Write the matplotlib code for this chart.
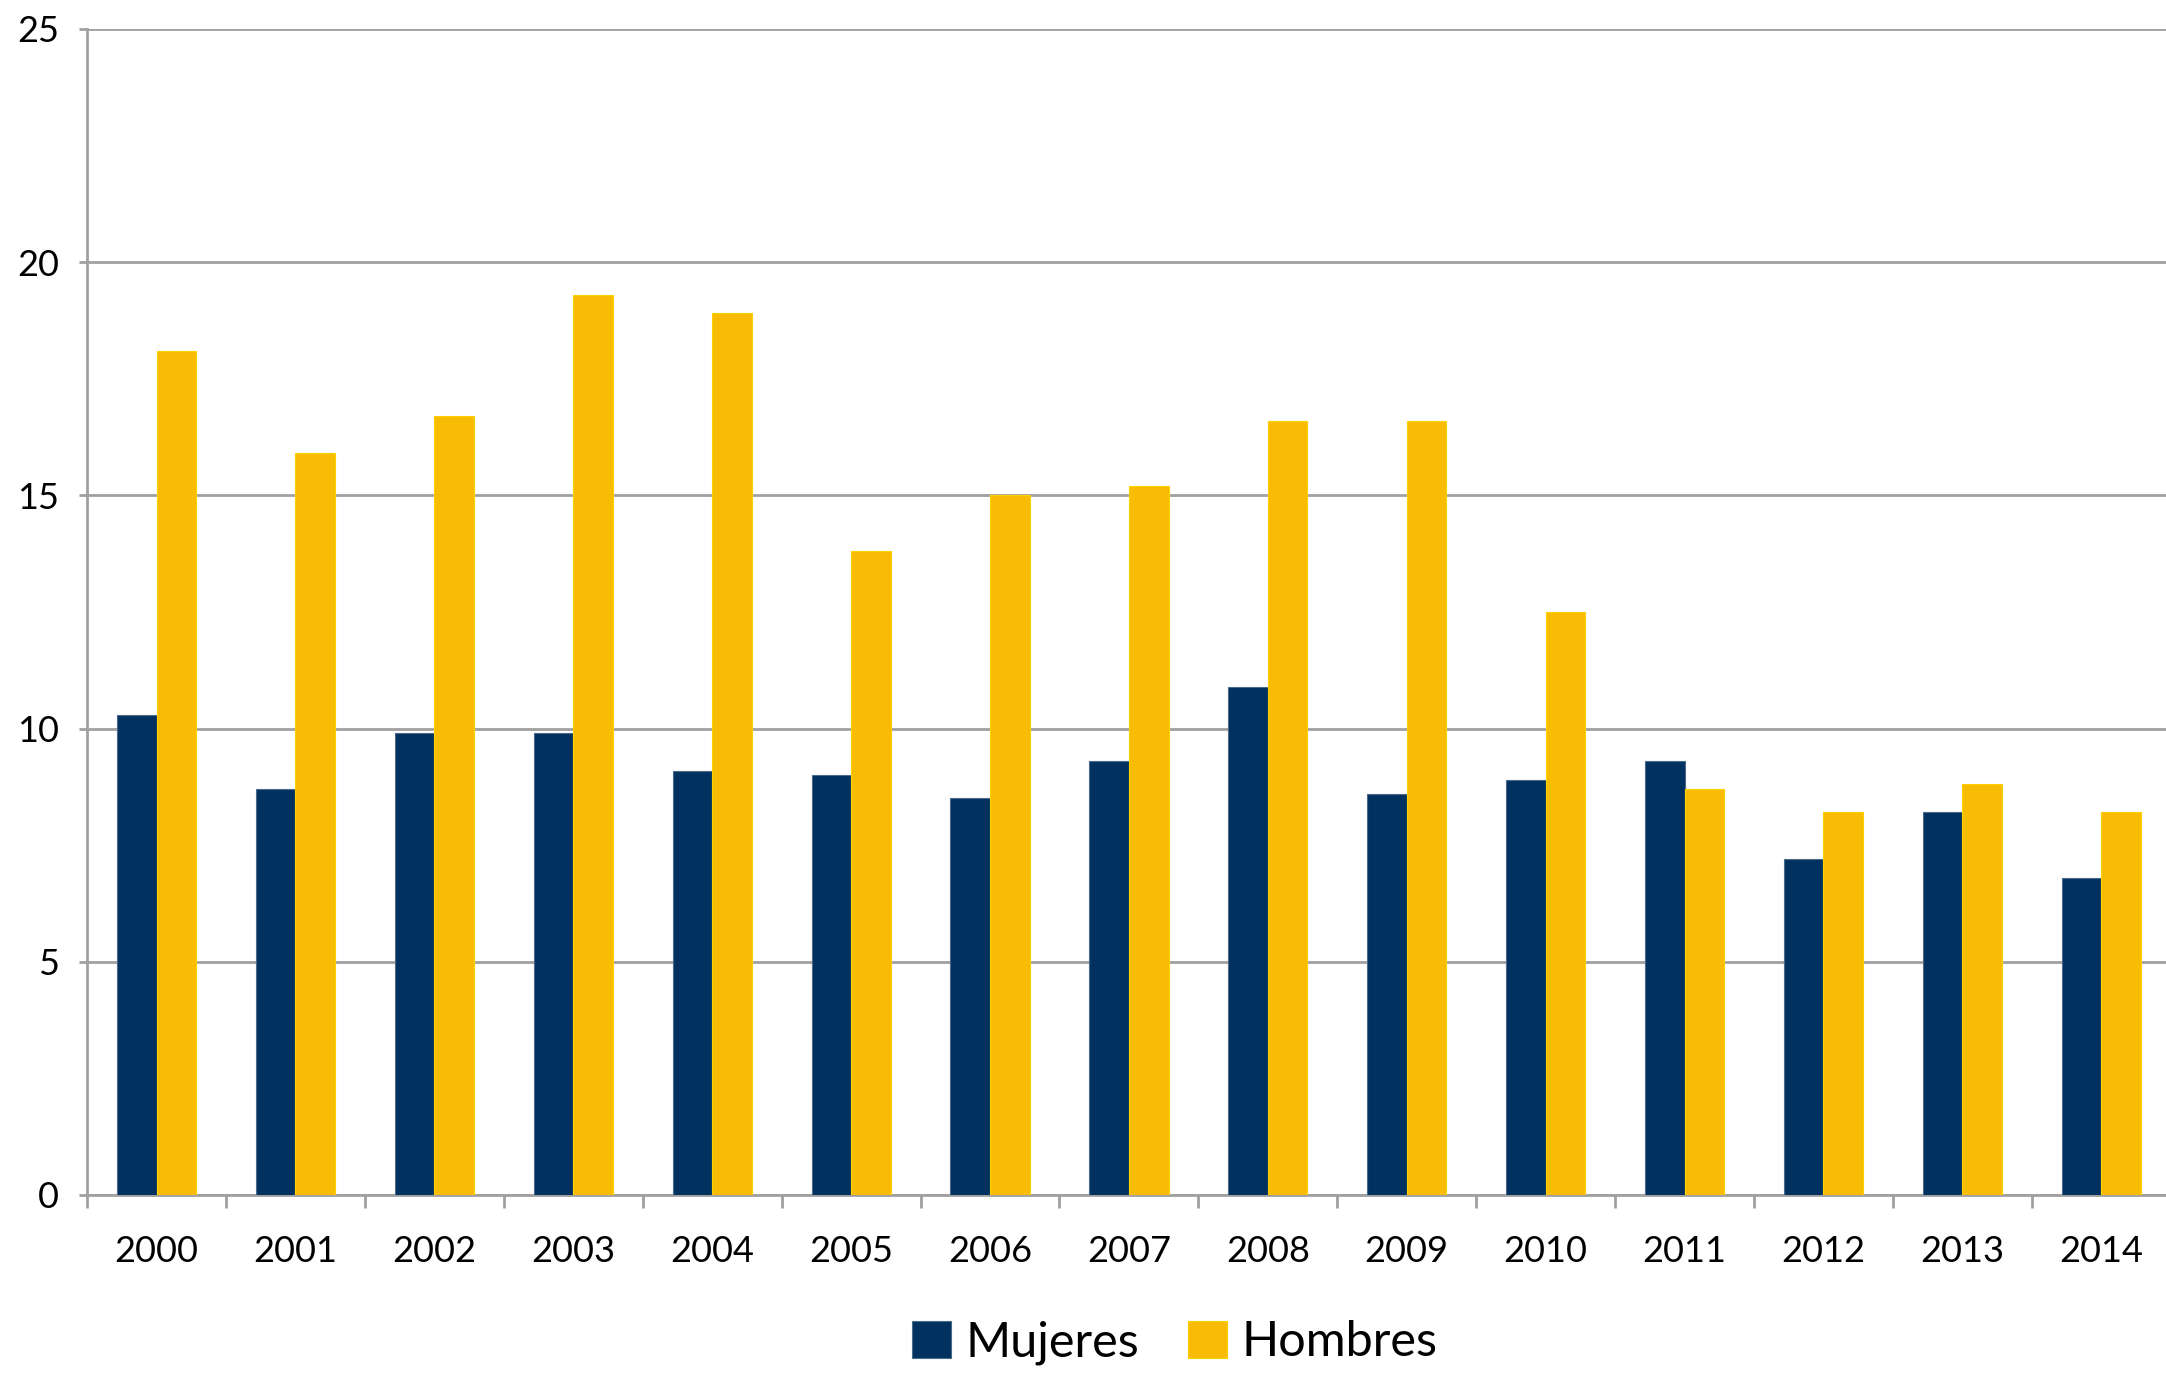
import matplotlib
matplotlib.use("Agg")
import matplotlib.pyplot as plt
import numpy as np

years = ["2000", "2001", "2002", "2003", "2004", "2005", "2006", "2007",
         "2008", "2009", "2010", "2011", "2012", "2013", "2014"]
mujeres = [10.3, 8.7, 9.9, 9.9, 9.1, 9.0, 8.5, 9.3, 10.9, 8.6, 8.9, 9.3, 7.2, 8.2, 6.8]
hombres = [18.1, 15.9, 16.7, 19.3, 18.9, 13.8, 15.0, 15.2, 16.6, 16.6, 12.5, 8.7, 8.2, 8.8, 8.2]
series_names = ["Mujeres", "Hombres"]
yticks = [0, 5, 10, 15, 20, 25]

navy = "#00315F"
gold = "#F9BC05"
grid_c = "#A0A0A0"

plt.rcParams['font.family'] = ['Lato', 'DejaVu Sans']

fig = plt.figure(figsize=(21.66, 13.74), dpi=100)
ax = fig.add_axes([0.0402, 0.1303, 0.962, 0.8487])

x = np.arange(len(years))
w = 0.285
ax.bar(x - w / 2, mujeres, width=w, color=navy, edgecolor="#4A6A8A", linewidth=0.8,
       label=series_names[0], zorder=3)
ax.bar(x + w / 2, hombres, width=w, color=gold, edgecolor="#FFD000", linewidth=0.8,
       label=series_names[1], zorder=3)

ax.set_xlim(-0.5, len(years) - 0.5)
ax.set_ylim(0, 25)
ax.set_yticks(yticks)
ax.set_yticklabels([str(v) for v in yticks])
ax.yaxis.grid(True, color=grid_c, linewidth=2, zorder=0)
ax.set_axisbelow(True)

ax.set_xticks(x)
ax.set_xticklabels(years)
ax.set_xticks(np.arange(-0.5, len(years), 1.0), minor=True)
ax.tick_params(axis="x", which="major", length=0, pad=29, labelsize=26, labelcolor="#000000")
ax.tick_params(axis="x", which="minor", length=9, width=2, color=grid_c, direction="out")
ax.tick_params(axis="y", which="major", length=6, width=2, color=grid_c, pad=14,
               labelsize=26, labelcolor="#000000")

for s in ["top", "right"]:
    ax.spines[s].set_visible(False)
for s in ["left", "bottom"]:
    ax.spines[s].set_color(grid_c)
    ax.spines[s].set_linewidth(2)

leg = fig.legend(loc="center", bbox_to_anchor=(0.5425, 0.023), ncol=2, frameon=False,
                 prop={"size": 35}, handlelength=0.8, handleheight=0.8,
                 handletextpad=0.3, columnspacing=1.0)

fig.savefig("out.png", dpi=100)
